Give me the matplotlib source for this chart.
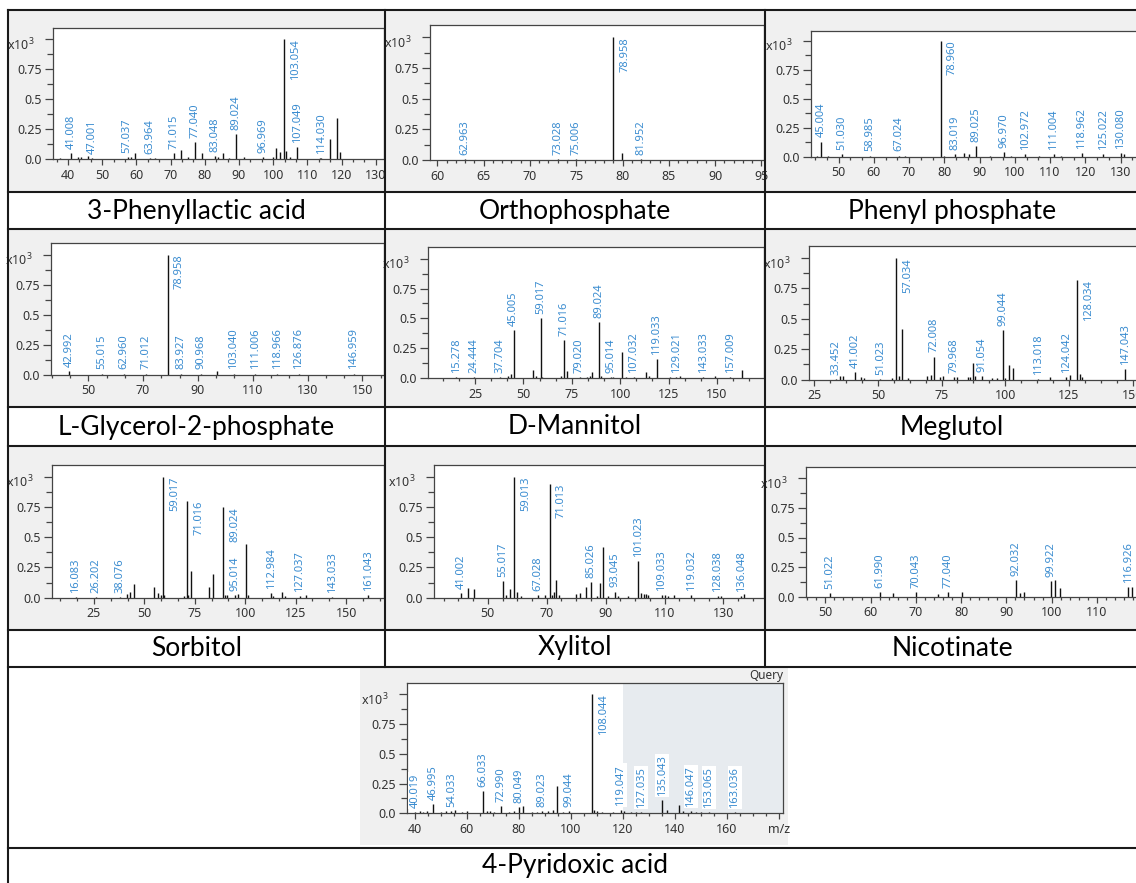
import numpy as np
import matplotlib
matplotlib.use('Agg')
import matplotlib.pyplot as plt
from matplotlib.lines import Line2D
from matplotlib.patches import Rectangle
from matplotlib.ticker import FixedLocator

# ---- data (intensity relative to base peak, x10^3) ----
titles = ['3-Phenyllactic acid', 'Orthophosphate', 'Phenyl phosphate',
          'L-Glycerol-2-phosphate', 'D-Mannitol', 'Meglutol',
          'Sorbitol', 'Xylitol', 'Nicotinate', '4-Pyridoxic acid']

phenyllactic_mz = [37.8, 41.008, 42.8, 43.8, 45.8, 47.001, 57.6, 58.5, 59.5, 63.964, 65.5, 71.015,
                   73.1, 75.1, 77.040, 79.3, 83.048, 84.0, 85.2, 87.2, 89.024, 91.4, 96.969, 100.0,
                   100.9, 101.9, 103.054, 103.8, 104.8, 107.049, 113.6, 114.030, 116.5, 118.7, 119.6]
phenyllactic_int = [0.01, 0.05, 0.02, 0.02, 0.03, 0.01, 0.02, 0.02, 0.05, 0.01, 0.01, 0.05,
                    0.08, 0.02, 0.14, 0.05, 0.03, 0.02, 0.05, 0.01, 0.21, 0.02, 0.02, 0.02,
                    0.09, 0.06, 1.0, 0.07, 0.02, 0.10, 0.01, 0.01, 0.17, 0.34, 0.06]
phenyllactic_labels = [41.008, 47.001, 57.037, 63.964, 71.015, 77.040, 83.048, 89.024,
                       96.969, 103.054, 107.049, 114.030]

ortho_mz = [62.963, 73.028, 75.006, 78.958, 79.960, 81.952]
ortho_int = [0.01, 0.01, 0.01, 1.0, 0.06, 0.01]
ortho_labels = [62.963, 73.028, 75.006, 78.958, 81.952]

phenylp_mz = [44.0, 45.004, 47.0, 51.030, 58.985, 67.024, 69.0, 78.960, 80.0, 83.019, 85.5, 87.0,
              89.025, 93.0, 96.970, 99.0, 102.972, 107.0, 111.004, 113.0, 118.962, 125.022,
              130.080, 131.0, 136.0]
phenylp_int = [0.01, 0.13, 0.01, 0.02, 0.01, 0.01, 0.01, 1.0, 0.01, 0.02, 0.03, 0.02,
               0.09, 0.01, 0.04, 0.01, 0.02, 0.01, 0.02, 0.01, 0.03, 0.02,
               0.03, 0.02, 0.02]
phenylp_labels = [45.004, 51.030, 58.985, 67.024, 78.960, 83.019, 89.025, 96.970, 102.972,
                  111.004, 118.962, 125.022, 130.080, 136.010]

glycerol_mz = [42.992, 55.015, 62.960, 71.012, 78.958, 83.927, 90.968, 97.0, 103.040, 111.006,
               118.966, 126.876, 146.959]
glycerol_int = [0.03, 0.01, 0.01, 0.01, 1.0, 0.01, 0.01, 0.035, 0.01, 0.01, 0.01, 0.01, 0.01]
glycerol_labels = [42.992, 55.015, 62.960, 71.012, 78.958, 83.927, 90.968, 103.040, 111.006,
                   118.966, 126.876, 146.959]

mannitol_mz = [15.278, 24.444, 37.704, 42.0, 43.4, 45.005, 55.0, 56.6, 59.017, 59.8, 69.6, 71.016,
               72.6, 79.020, 82.6, 84.6, 85.2, 89.024, 90.2, 95.014, 96.4, 101.0, 103.2, 107.032,
               113.2, 114.8, 119.033, 125.8, 129.021, 130.8, 143.033, 149.0, 157.009, 162.8]
mannitol_int = [0.005, 0.005, 0.01, 0.02, 0.03, 0.40, 0.07, 0.02, 0.50, 0.01, 0.02, 0.32,
                0.06, 0.01, 0.01, 0.02, 0.05, 0.47, 0.02, 0.01, 0.01, 0.22, 0.01, 0.01,
                0.05, 0.02, 0.16, 0.01, 0.01, 0.02, 0.01, 0.02, 0.01, 0.07]
mannitol_labels = [15.278, 24.444, 37.704, 45.005, 59.017, 71.016, 79.020, 89.024, 95.014,
                   107.032, 119.033, 129.021, 143.033, 157.009]

meglutol_mz = [33.452, 35.2, 36.5, 41.002, 43.3, 44.4, 51.023, 55.5, 57.034, 58.1, 59.4, 62.0,
               69.2, 70.9, 72.008, 74.5, 75.4, 79.968, 81.0, 85.2, 86.3, 87.2, 88.2, 91.054,
               94.8, 96.7, 99.044, 100.0, 101.3, 103.0, 113.018, 117.4, 124.042, 125.3, 128.034,
               129.2, 130.1, 147.043]
meglutol_int = [0.005, 0.03, 0.03, 0.06, 0.02, 0.01, 0.005, 0.01, 1.0, 0.03, 0.42, 0.01,
                0.03, 0.04, 0.19, 0.02, 0.03, 0.02, 0.02, 0.02, 0.02, 0.14, 0.03, 0.03,
                0.01, 0.01, 0.41, 0.01, 0.12, 0.10, 0.005, 0.02, 0.02, 0.04, 0.82,
                0.05, 0.02, 0.09]
meglutol_labels = [33.452, 41.002, 51.023, 57.034, 72.008, 79.968, 91.054, 99.044, 113.018,
                   124.042, 128.034, 147.043]

sorbitol_mz = [16.083, 26.202, 38.076, 41.2, 42.9, 44.8, 54.9, 56.9, 58.2, 59.017, 59.9, 69.8,
               71.016, 71.8, 73.0, 82.2, 84.2, 89.024, 89.9, 90.8, 95.014, 96.3, 100.2, 101.5,
               112.984, 113.9, 118.1, 119.7, 127.037, 130.1, 143.033, 161.043]
sorbitol_int = [0.005, 0.005, 0.005, 0.03, 0.05, 0.11, 0.09, 0.04, 0.02, 1.0, 0.02, 0.01,
                0.80, 0.02, 0.22, 0.09, 0.20, 0.75, 0.02, 0.02, 0.02, 0.03, 0.44, 0.02,
                0.04, 0.01, 0.05, 0.01, 0.01, 0.02, 0.005, 0.02]
sorbitol_labels = [16.083, 26.202, 38.076, 59.017, 71.016, 89.024, 95.014, 112.984, 127.037,
                   143.033, 161.043]

xylitol_mz = [41.002, 43.3, 45.2, 55.017, 56.3, 57.4, 59.013, 60.0, 61.1, 67.028, 69.3, 71.013,
              71.7, 72.3, 73.1, 74.0, 80.0, 81.2, 83.2, 85.026, 87.2, 88.2, 89.1, 90.8, 93.045,
              94.2, 97.6, 101.023, 102.1, 103.0, 103.8, 104.3, 109.033, 110.3, 111.1, 113.2,
              119.032, 128.038, 129.2, 136.048, 136.9]
xylitol_int = [0.04, 0.08, 0.07, 0.14, 0.02, 0.07, 1.0, 0.05, 0.01, 0.02, 0.02, 0.94,
               0.02, 0.05, 0.15, 0.02, 0.03, 0.04, 0.09, 0.13, 0.01, 0.12, 0.42, 0.01, 0.05,
               0.01, 0.01, 0.30, 0.04, 0.03, 0.03, 0.02, 0.02, 0.02, 0.01, 0.02,
               0.02, 0.01, 0.01, 0.01, 0.03]
xylitol_labels = [41.002, 55.017, 59.013, 67.028, 71.013, 85.026, 93.045, 101.023, 109.033,
                  119.032, 128.038, 136.048]

nicotinate_mz = [51.022, 61.990, 65.0, 70.043, 75.0, 77.040, 80.1, 92.032, 93.1, 94.0, 99.922,
                 100.8, 101.8, 116.926, 117.7]
nicotinate_int = [0.03, 0.04, 0.03, 0.04, 0.02, 0.04, 0.04, 0.14, 0.03, 0.04, 0.13,
                  0.14, 0.07, 0.08, 0.08]
nicotinate_labels = [51.022, 61.990, 70.043, 77.040, 92.032, 99.922, 116.926]

pyridoxic_mz = [40.019, 42.0, 43.0, 44.5, 46.995, 50.0, 52.0, 54.033, 55.2, 58.0, 60.0, 66.033,
                67.5, 69.0, 70.5, 72.990, 76.0, 78.0, 80.049, 81.5, 85.0, 87.0, 89.023, 91.0,
                93.0, 94.5, 97.0, 99.044, 108.044, 109.0, 110.0, 112.0, 116.0, 119.047, 120.5,
                123.0, 125.0, 127.035, 135.043, 137.0, 141.5, 143.0, 146.047, 148.0, 150.0,
                153.065, 163.036]
pyridoxic_int = [0.01, 0.02, 0.01, 0.02, 0.075, 0.01, 0.02, 0.02, 0.03, 0.01, 0.02, 0.19,
                 0.02, 0.02, 0.01, 0.06, 0.01, 0.02, 0.05, 0.06, 0.01, 0.01, 0.02, 0.02,
                 0.03, 0.23, 0.01, 0.02, 1.0, 0.03, 0.02, 0.01, 0.01, 0.03, 0.02,
                 0.01, 0.01, 0.01, 0.11, 0.03, 0.07, 0.02, 0.02, 0.01, 0.01,
                 0.01, 0.01]
pyridoxic_labels = [40.019, 46.995, 54.033, 66.033, 72.990, 80.049, 89.023, 99.044, 108.044,
                    119.047, 127.035, 135.043, 146.047, 153.065, 163.036]

spectra = [
    (phenyllactic_mz, phenyllactic_int, phenyllactic_labels),
    (ortho_mz, ortho_int, ortho_labels),
    (phenylp_mz, phenylp_int, phenylp_labels),
    (glycerol_mz, glycerol_int, glycerol_labels),
    (mannitol_mz, mannitol_int, mannitol_labels),
    (meglutol_mz, meglutol_int, meglutol_labels),
    (sorbitol_mz, sorbitol_int, sorbitol_labels),
    (xylitol_mz, xylitol_int, xylitol_labels),
    (nicotinate_mz, nicotinate_int, nicotinate_labels),
    (pyridoxic_mz, pyridoxic_int, pyridoxic_labels),
]

# ---- layout (pixels of the 1136x883 picture) ----
W, H = 1136, 883
BLUE = '#3a8cd0'
GRAY = '#f0f0f0'
TXT = '#333333'

# plot box: left, top, right, baseline; y pixel of 1.0; x calibration (mz, px, px per unit);
# major ticks; minor step
boxes = [
    ((53, 27.7, 384, 159.3), 39.0, (40, 68.0, 3.42), np.arange(40, 131, 10), 10 / 3),
    ((430, 25, 764, 160), 37.3, (60, 437.3, 9.26), np.arange(60, 96, 5), 1),
    ((811, 30.7, 1150, 156.7), 40.7, (50, 838.5, 3.526), np.arange(50, 131, 10), 10 / 3),
    ((50.7, 243, 384, 374.7), 254.7, (50, 88.3, 2.74), np.arange(50, 151, 20), 20 / 3),
    ((428, 247.3, 764, 378), 258.7, (15.278, 456.3, 1.934), np.arange(25, 151, 25), 25 / 3),
    ((809, 246.3, 1150, 379.7), 258.0, (25, 814.2, 2.547), np.arange(25, 151, 25), 25 / 4),
    ((51.7, 465, 384, 597.7), 476.7, (16.083, 76.0, 2.017), np.arange(25, 151, 25), 25 / 3),
    ((433.7, 465, 764, 597.7), 476.7, (41.002, 461.3, 2.946), np.arange(50, 131, 20), 5),
    ((805.7, 467.3, 1150, 596.7), 478.3, (50, 825.3, 4.527), np.arange(50, 111, 10), 2),
    ((406.7, 683, 783, 813.3), 694.3, (40, 415.0, 2.6), np.arange(40, 181, 20), 5),
]

plt.rcParams['font.family'] = ['Noto Sans', 'DejaVu Sans']
plt.rcParams['mathtext.fontset'] = 'custom'
plt.rcParams['mathtext.rm'] = 'Noto Sans'

fig = plt.figure(figsize=(W / 100, H / 100), dpi=100)


def fx(x):
    return x / W


def fy(y):
    return 1 - y / H


# gray backgrounds of the spectrum cells
col_edges = [8, 385, 765, 1140]
row_spans = [(10, 192), (229.5, 407), (446, 630)]
for t, b in row_spans:
    for c in range(3):
        fig.add_artist(Rectangle((fx(col_edges[c]), fy(b)), (col_edges[c + 1] - col_edges[c]) / W,
                                 (b - t) / H, transform=fig.transFigure, fc=GRAY, ec='none', zorder=0))
fig.add_artist(Rectangle((fx(360), fy(845)), 428 / W, 178 / H, transform=fig.transFigure,
                         fc=GRAY, ec='none', zorder=0))

for k, ((mz, inten, labels), (box, one_px, cal, majors, mstep)) in enumerate(zip(spectra, boxes)):
    left, top, right, base = box
    ref, ref_px, ppu = cal
    ax = fig.add_axes([fx(left), fy(base), (right - left) / W, (base - top) / H])
    x0 = ref + (left - ref_px) / ppu
    x1 = ref + (right - ref_px) / ppu
    ax.set_xlim(x0, x1)
    ax.set_ylim(0, (base - top) / (base - one_px))
    ax.set_facecolor('white')

    query = (k == 9)
    if query:
        ax.axvspan(120, x1 + 5, color='#e7ebef', lw=0, zorder=0.5)

    ax.vlines(mz, 0, inten, color='#111111', lw=1.0, zorder=2)

    mz_a = np.asarray(mz)
    in_a = np.asarray(inten)
    for lab in labels:
        i = np.argmin(np.abs(mz_a - lab))
        h = in_a[i] if abs(mz_a[i] - lab) < 0.8 else 0.0
        kw = dict(rotation=90, ha='center', fontsize=8, color=BLUE,
                  textcoords='offset points', zorder=3, annotation_clip=False)
        if query:
            kw['bbox'] = dict(boxstyle='square,pad=0.12', fc='white', ec='none')
        if h > 0.6:
            ax.annotate('%.3f' % lab, xy=(lab, h), xytext=(8.5, 0), va='top', **kw)
        else:
            ax.annotate('%.3f' % lab, xy=(lab, h), xytext=(0, 3), va='bottom', **kw)

    # axes styling
    for s in ax.spines.values():
        s.set_color('#444444')
        s.set_linewidth(0.9)
    ax.set_xticks(majors)
    if query:
        ax.set_xticklabels([str(v) for v in majors[:-1]] + ['m/z'])
    start = majors[0] - mstep * np.ceil((majors[0] - x0) / mstep)
    ax.xaxis.set_minor_locator(FixedLocator(np.arange(start, x1, mstep)))
    ax.set_yticks([0, 0.25, 0.5, 0.75, 1.0])
    ax.set_yticklabels(['0.0', '0.25', '0.5', '0.75', ''])
    ax.yaxis.set_minor_locator(FixedLocator([0.125, 0.375, 0.625, 0.875]))
    ax.tick_params(axis='x', which='major', length=4.5, width=0.9, color='#444444',
                   labelsize=9, labelcolor=TXT, pad=2.5)
    ax.tick_params(axis='x', which='minor', length=2.5, width=0.9, color='#444444')
    ax.tick_params(axis='y', which='major', length=6, width=0.9, color='#444444',
                   labelsize=9, labelcolor=TXT, pad=2)
    ax.tick_params(axis='y', which='minor', length=4, width=0.9, color='#444444')
    ax.annotate('x10$^3$', xy=(0, 1.0), xycoords=ax.get_yaxis_transform(),
                xytext=(-13, -4), textcoords='offset points', ha='right', va='center',
                fontsize=9, color=TXT, annotation_clip=False)

fig.text(fx(783), fy(675), 'Query', ha='right', va='center', fontsize=8.5, color=TXT)

# captions
cap_x = [196.5, 575, 952]
cap_y = [211, 427, 648]
for k in range(9):
    fig.text(fx(cap_x[k % 3]), fy(cap_y[k // 3]), titles[k], ha='center', va='center',
             fontsize=19, family='Lato', color='black')
fig.text(fx(575), fy(866), titles[9], ha='center', va='center', fontsize=19, family='Lato',
         color='black')

# table rules
lc = '#1a1a1a'
for y in [10, 192, 229.5, 407, 446, 630, 666.5, 847.5]:
    fig.add_artist(Line2D([fx(8), fx(1136)], [fy(y), fy(y)], transform=fig.transFigure,
                          color=lc, lw=1.5, zorder=5))
fig.add_artist(Line2D([fx(8), fx(8)], [fy(10), fy(883)], transform=fig.transFigure,
                      color=lc, lw=1.5, zorder=5))
for x in [385, 765]:
    fig.add_artist(Line2D([fx(x), fx(x)], [fy(10), fy(666.5)], transform=fig.transFigure,
                          color=lc, lw=1.5, zorder=5))

fig.savefig('out.png', dpi=100)
